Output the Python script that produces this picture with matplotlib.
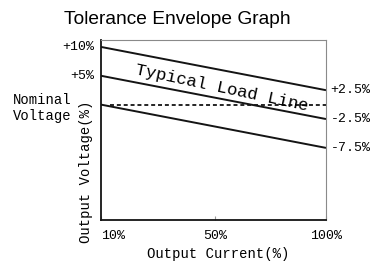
import matplotlib.pyplot as plt

# schematic x positions for the load ticks (left edge, middle, right edge)
load_labels = ['10%', '50%', '100%']
load_pos = [0.0, 0.507, 1.0]

# envelope lines, voltage deviation (%) at 10% load and at 100% load
upper_line = [10, 2.5]
typical_line = [5, -2.5]
lower_line = [0, -7.5]
nominal = 0

left_labels = ['+10%', '+5%']
right_labels = ['+2.5%', '-2.5%', '-7.5%']

W, H = 372, 263
fig = plt.figure(figsize=(W / 100, H / 100), dpi=100)
ax = fig.add_axes([101 / W, 1 - 220 / H, 225 / W, 180 / H])

mono = 'Liberation Mono'
ink = '#141414'

ends = [load_pos[0], load_pos[-1]]
for vals in (upper_line, typical_line, lower_line):
    ax.plot(ends, vals, color=ink, lw=1.4, solid_capstyle='butt')
ax.plot([0.04, 1.0], [nominal, nominal], color=ink, lw=1.3, dashes=(2.2, 1.6))

ax.set_xlim(0, 1)
ax.set_ylim(-20, 11.2)

ax.set_xticks(load_pos)
ax.set_xticklabels(load_labels, fontfamily=mono, fontsize=9.5)
ax.get_xticklabels()[0].set_ha('left')
ax.tick_params(axis='x', direction='in', length=3, color='#999999', pad=7)
ax.set_yticks([])

for side in ('left', 'bottom'):
    ax.spines[side].set_color(ink)
    ax.spines[side].set_linewidth(1.3)
for side in ('top', 'right'):
    ax.spines[side].set_color('#8a8a8a')
    ax.spines[side].set_linewidth(0.8)

# labels on the left edge
for txt, v in zip(left_labels, [upper_line[0], typical_line[0]]):
    ax.text(-0.03, v, txt, ha='right', va='center', fontfamily=mono,
            fontsize=9.5, transform=ax.get_yaxis_transform())
# labels on the right edge
for txt, v in zip(right_labels, [upper_line[1], typical_line[1], lower_line[1]]):
    ax.text(1.02, v, txt, ha='left', va='center', fontfamily=mono,
            fontsize=9.5, transform=ax.get_yaxis_transform())

ax.text(0.535, 2.8, 'Typical Load Line', rotation=-12, ha='center', va='center',
        fontfamily=mono, fontsize=12.5, rotation_mode='anchor')

fig.text(13 / W, 1 - 108 / H, 'Nominal\nVoltage', ha='left', va='center',
         fontfamily=mono, fontsize=10, linespacing=1.2)
fig.text(86 / W, 1 - 243 / H, 'Output Voltage(%)', rotation=90, ha='center',
         va='bottom', fontfamily=mono, fontsize=10)
fig.text(218 / W, 1 - 254 / H, 'Output Current(%)', ha='center', va='center',
         fontfamily=mono, fontsize=10)
fig.text(177 / W, 1 - 19 / H, 'Tolerance Envelope Graph', ha='center',
         va='center', fontfamily='Liberation Sans', fontsize=13.8)

fig.savefig('out.png', dpi=100)
